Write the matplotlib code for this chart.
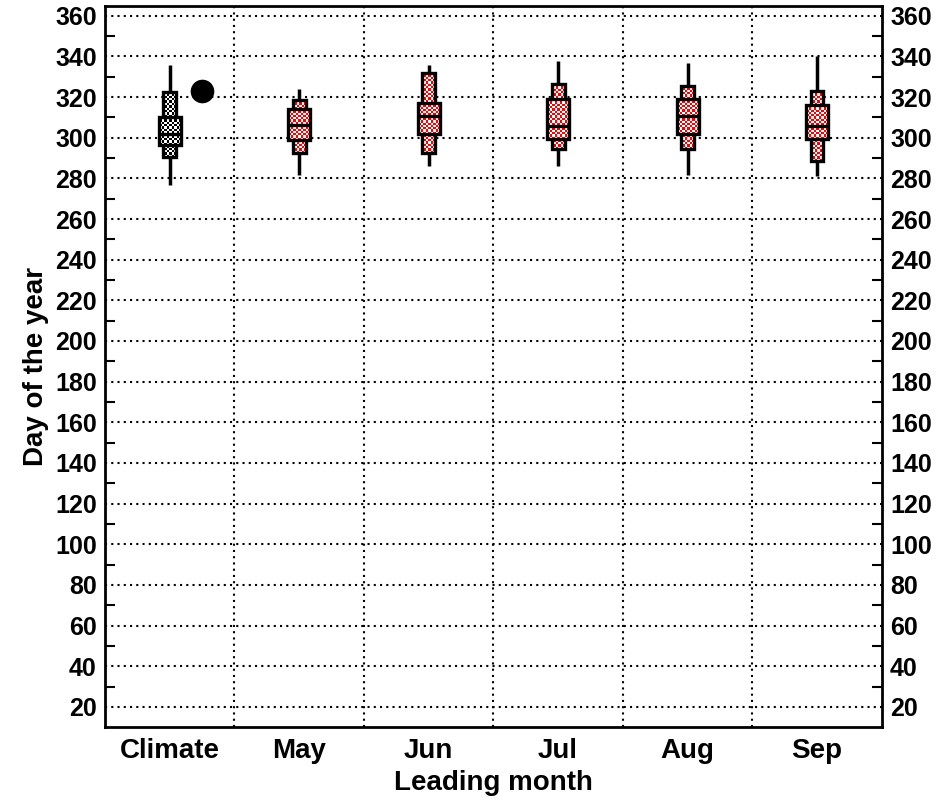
import numpy as np
import matplotlib
matplotlib.use('Agg')
import matplotlib.pyplot as plt
from matplotlib.patches import Rectangle

plt.rcParams['font.family'] = ['Liberation Sans', 'DejaVu Sans']
plt.rcParams['font.weight'] = 'bold'

## Values (day of the year)
months = ['Climate', 'May', 'Jun', 'Jul', 'Aug', 'Sep']
whisker_lo = [276.6, 281.7, 286.3, 286.3, 281.7, 281.0]
outer_lo = [290.3, 292.5, 292.5, 294.5, 294.5, 288.7]
inner_lo = [296.6, 298.9, 301.6, 299.6, 301.6, 299.6]
median = [302.0, 306.1, 310.6, 306.0, 310.6, 306.0]
inner_hi = [310.3, 314.2, 317.2, 319.2, 319.2, 316.0]
outer_hi = [322.5, 318.5, 332.0, 326.3, 325.5, 323.0]
whisker_hi = [335.7, 323.8, 335.7, 337.7, 336.7, 340.0]
box_colors = ['black', 'red', 'red', 'red', 'red', 'red']

## Observed value for the climate column
obs_x = 1.25
obs_y = 323.0

fig = plt.figure(figsize=(9.4, 8), dpi=100)
ax = fig.add_axes([0.1117, 0.091, 0.8263, 0.902])

xs = np.arange(1, len(months) + 1)


def checker_box(ax, x0, y0, w, h, color, z):
    ## checkerboard fill clipped to the box, then black border on top
    nx = max(2, int(round(w / 0.018)))
    ny = max(2, int(round(h / 1.13)))
    grid = (np.add.outer(np.arange(ny), np.arange(nx)) % 2).astype(float)
    rgb = np.ones((ny, nx, 3))
    c = np.array(matplotlib.colors.to_rgb(color))
    rgb[grid == 0] = c
    border = Rectangle((x0, y0), w, h, facecolor='none', edgecolor='black',
                       linewidth=2.4, zorder=z + 0.5)
    ax.add_patch(border)
    im = ax.imshow(rgb, extent=(x0, x0 + w, y0, y0 + h), origin='lower',
                   interpolation='nearest', aspect='auto', zorder=z)
    im.set_clip_path(border)


w_outer = 0.10
w_inner = 0.17
for i, x in enumerate(xs):
    ax.plot([x, x], [whisker_lo[i], whisker_hi[i]], color='black',
            linewidth=2.5, solid_capstyle='butt', zorder=3)
    checker_box(ax, x - w_outer / 2, outer_lo[i], w_outer,
                outer_hi[i] - outer_lo[i], box_colors[i], 4)
    checker_box(ax, x - w_inner / 2, inner_lo[i], w_inner,
                inner_hi[i] - inner_lo[i], box_colors[i], 6)
    ax.plot([x - w_inner / 2, x + w_inner / 2], [median[i], median[i]],
            color='black', linewidth=2.4, solid_capstyle='butt', zorder=8)

ax.plot([obs_x], [obs_y], 'o', color='black', markersize=16, zorder=9)

ax.set_xlim(0.5, 6.5)
ax.set_ylim(10, 365)
ax.set_xticks(xs)
ax.set_xticklabels(months)
ax.set_xticks(np.arange(1.5, 6.5, 1.0), minor=True)
ax.set_yticks(np.arange(20, 361, 20))
ax.set_yticks(np.arange(30, 361, 20), minor=True)

ax.grid(True, which='major', axis='y', color='black', linestyle=(0, (1, 2)),
        linewidth=1.5)
ax.grid(True, which='minor', axis='x', color='black', linestyle=(0, (1, 2)),
        linewidth=1.5)

ax.tick_params(axis='y', which='major', length=0, labelsize=18,
               labelright=True, pad=6)
ax.tick_params(axis='y', which='minor', direction='in', length=7.5, width=1.5,
               left=True, right=True)
ax.tick_params(axis='x', which='both', length=0, labelsize=20, pad=8)

for s in ax.spines.values():
    s.set_linewidth(2)

ax.set_xlabel('Leading month', fontsize=20, fontweight='bold', labelpad=4)
ax.set_ylabel('Day of the year', fontsize=20, fontweight='bold', labelpad=4)

fig.savefig('out.png', dpi=100)
